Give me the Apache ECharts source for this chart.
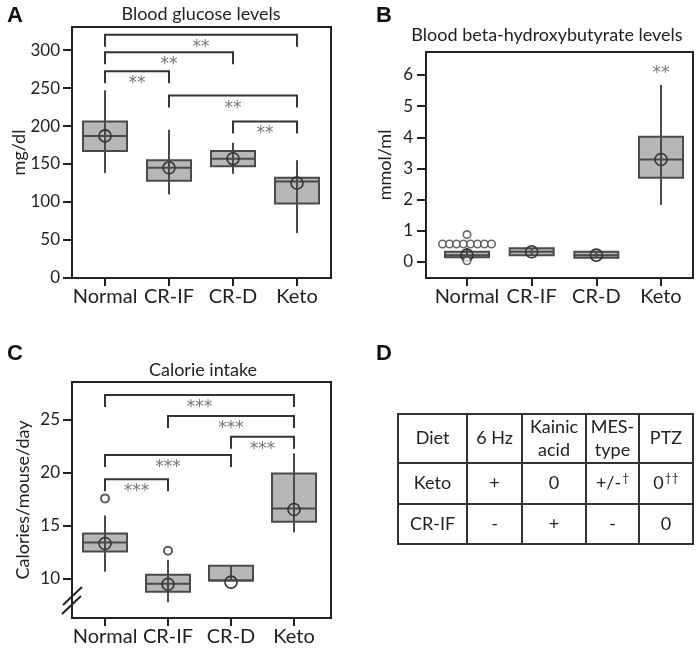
<!DOCTYPE html>
<html><head><meta charset="utf-8">
<script src="https://cdn.jsdelivr.net/npm/echarts@6/dist/echarts.min.js"></script>
<style>html,body{margin:0;padding:0;background:#fff}#c{width:699px;height:656px}</style>
</head><body><div id="c"></div>
<script>
// ---------------- data ----------------
const categories = ['Normal', 'CR-IF', 'CR-D', 'Keto'];
const categoryTicks = [0, 1, 2, 3];

// box stats per category: [low, q1, median, q3, high, mean]
const glucoseLow    = [138, 110, 137, 59];
const glucoseQ1     = [167, 128, 147, 98];
const glucoseMedian = [187, 145, 157, 127];
const glucoseQ3     = [206, 155, 167, 132];
const glucoseHigh   = [247, 195, 178, 155];
const glucoseMean   = [187, 145, 157, 125];
const glucoseTicks  = [0, 50, 100, 150, 200, 250, 300];
// brackets: from category, to category, level (mg/dl), label
const glucoseBrFrom  = [0, 0, 0, 1, 2];
const glucoseBrTo    = [3, 2, 1, 3, 3];
const glucoseBrLevel = [320, 297, 272, 240, 206];
const glucoseBrSig   = ['**', '**', '**', '**', '**'];

const bhbLow    = [0.08, 0.22, 0.14, 1.83];
const bhbQ1     = [0.15, 0.22, 0.14, 2.70];
const bhbMedian = [0.22, 0.33, 0.22, 3.29];
const bhbQ3     = [0.33, 0.44, 0.33, 4.02];
const bhbHigh   = [0.45, 0.44, 0.33, 5.68];
const bhbMean   = [0.22, 0.33, 0.22, 3.29];
const bhbTicks  = [0, 1, 2, 3, 4, 5, 6];
const bhbSig    = ['', '', '', '**'];
// outliers (category, value)
const bhbOutCat = [0, 0, 0, 0, 0, 0, 0, 0, 0, 0];
const bhbOutVal = [0.58, 0.58, 0.58, 0.58, 0.58, 0.58, 0.58, 0.58, 0.88, 0.04];

const calLow    = [10.7, 7.8, 9.85, 14.4];
const calQ1     = [12.6, 8.8, 9.85, 15.4];
const calMedian = [13.45, 9.55, 9.85, 16.65];
const calQ3     = [14.3, 10.4, 11.25, 19.95];
const calHigh   = [16.0, 11.8, 11.25, 21.85];
const calMean   = [13.35, 9.5, 9.7, 16.55];
const calTicks  = [10, 15, 20, 25];
const calOutCat = [0, 1];
const calOutVal = [17.6, 12.67];
const calBrFrom  = [0, 1, 2, 0, 0];
const calBrTo    = [3, 3, 3, 2, 1];
const calBrLevel = [27.36, 25.38, 23.42, 21.7, 19.4];
const calBrSig   = ['***', '***', '***', '***', '***'];

const tableHeader = ['Diet', '6 Hz', 'Kainic\nacid', 'MES-\ntype', 'PTZ'];
const tableRow1   = ['Keto', '+', '0', '+/-', '0'];
const tableRow1Note = ['', '', '', '†', '††'];
const tableRow2   = ['CR-IF', '-', '+', '-', '0'];

// ---------------- style / layout ----------------
const FONT = 'Lato';
const INK = '#222';
const BOX_FILL = '#b7b7b7';
const BOX_STROKE = '#4a4a4a';
const BOX_HALF = 22;
const TICK = 12;
// jitter (px) for the swarm of identical outliers in panel B
const bhbJitter = [-24.5, -17.5, -10.5, -3.5, 3.5, 10.5, 17.5, 24.5, 0, 0];

function boxData(lo, q1, md, q3, hi, mn) {
  return categories.map((c, i) => [i, lo[i], q1[i], md[i], q3[i], hi[i], mn[i]]);
}
function makeBoxRender(sig) {
  return function (params, api) {
    const x = api.value(0);
    const lo = api.coord([x, api.value(1)]);
    const q1 = api.coord([x, api.value(2)]);
    const md = api.coord([x, api.value(3)]);
    const q3 = api.coord([x, api.value(4)]);
    const hi = api.coord([x, api.value(5)]);
    const mn = api.coord([x, api.value(6)]);
    const cx = q1[0];
    const ch = [
      {type: 'rect', shape: {x: cx - BOX_HALF, y: q3[1], width: 2 * BOX_HALF, height: q1[1] - q3[1]},
       style: {fill: BOX_FILL, stroke: BOX_STROKE, lineWidth: 2}},
      {type: 'line', shape: {x1: cx - BOX_HALF, y1: md[1], x2: cx + BOX_HALF, y2: md[1]},
       style: {stroke: BOX_STROKE, lineWidth: 2}},
      {type: 'line', shape: {x1: cx, y1: lo[1], x2: cx, y2: hi[1]},
       style: {stroke: BOX_STROKE, lineWidth: 2}},
      {type: 'circle', shape: {cx: cx, cy: mn[1], r: 6},
       style: {fill: 'rgba(0,0,0,0)', stroke: '#333', lineWidth: 1.6}}
    ];
    if (sig && sig[params.dataIndex]) {
      ch.push({type: 'text', style: {text: sig[params.dataIndex], x: cx, y: hi[1] - 20, align: 'center',
        verticalAlign: 'top', fill: '#777', fontSize: 17, fontFamily: 'DejaVu Sans'}});
    }
    return {type: 'group', children: ch};
  };
}
function makeBracketRender(sig) {
  return function (params, api) {
    const a = api.coord([api.value(0), api.value(2)]);
    const b = api.coord([api.value(1), api.value(2)]);
    const mid = (a[0] + b[0]) / 2;
    return {type: 'group', children: [
      {type: 'polyline', shape: {points: [[a[0], a[1] + TICK], [a[0], a[1]], [b[0], b[1]], [b[0], b[1] + TICK]]},
       style: {fill: null, stroke: '#333', lineWidth: 2}},
      {type: 'text', style: {text: sig[params.dataIndex], x: mid, y: a[1] + 4, align: 'center',
        verticalAlign: 'top', fill: '#777', fontSize: 17, fontFamily: 'DejaVu Sans'}}
    ]};
  };
}

const grids = [
  {left: 72, top: 27, width: 259, height: 251},
  {left: 426, top: 52, width: 267, height: 226},
  {left: 72, top: 382, width: 259, height: 236}
].map(g => Object.assign(g, {show: true, borderColor: INK, borderWidth: 2, backgroundColor: 'transparent',
  containLabel: false, outerBoundsMode: 'none'}));

function xAx(gi, min, max) {
  return {type: 'value', gridIndex: gi, min: min, max: max, splitLine: {show: false},
    axisLine: {show: true, onZero: false, lineStyle: {color: INK, width: 2}},
    axisTick: {show: true, length: 8, customValues: categoryTicks, lineStyle: {color: INK, width: 2}},
    axisLabel: {customValues: categoryTicks, formatter: v => categories[Math.round(v)] || '',
      margin: 9, fontSize: 20, color: INK, fontFamily: FONT, hideOverlap: false}};
}
function yAx(gi, min, max, ticks, name, gap, margin) {
  return {type: 'value', gridIndex: gi, min: min, max: max, splitLine: {show: false},
    axisLine: {show: true, onZero: false, lineStyle: {color: INK, width: 2}},
    name: name, nameLocation: 'middle', nameGap: gap, nameMoveOverlap: false,
    nameTextStyle: {fontSize: 18, color: INK, fontFamily: FONT},
    axisTick: {show: true, length: 9, customValues: ticks, lineStyle: {color: INK, width: 2}},
    axisLabel: {customValues: ticks, margin: margin, fontSize: 17, color: INK, fontFamily: FONT, hideOverlap: false}};
}

function bracketData(from, to, level) {
  return from.map((f, i) => [f, to[i], level[i]]);
}
function outlierData(cat, val, jit) {
  return cat.map((c, i) => ({value: [c, val[i]], symbolOffset: [jit ? jit[i] : 0, 0]}));
}
const outStyle = {color: '#fff', borderColor: '#444', borderWidth: 1.6};

const series = [
  {type: 'custom', xAxisIndex: 0, yAxisIndex: 0, renderItem: makeBoxRender(null),
   data: boxData(glucoseLow, glucoseQ1, glucoseMedian, glucoseQ3, glucoseHigh, glucoseMean),
   encode: {x: 0, y: [1, 5]}, clip: false, silent: true},
  {type: 'custom', xAxisIndex: 0, yAxisIndex: 0, renderItem: makeBracketRender(glucoseBrSig),
   data: bracketData(glucoseBrFrom, glucoseBrTo, glucoseBrLevel), encode: {x: [0, 1], y: 2}, clip: false, silent: true},

  {type: 'custom', xAxisIndex: 1, yAxisIndex: 1, renderItem: makeBoxRender(bhbSig),
   data: boxData(bhbLow, bhbQ1, bhbMedian, bhbQ3, bhbHigh, bhbMean),
   encode: {x: 0, y: [1, 5]}, clip: false, silent: true},
  {type: 'scatter', xAxisIndex: 1, yAxisIndex: 1, symbol: 'circle', symbolSize: 7.5, itemStyle: outStyle,
   data: outlierData(bhbOutCat, bhbOutVal, bhbJitter), silent: true, z: 3},

  {type: 'custom', xAxisIndex: 2, yAxisIndex: 2, renderItem: makeBoxRender(null),
   data: boxData(calLow, calQ1, calMedian, calQ3, calHigh, calMean),
   encode: {x: 0, y: [1, 5]}, clip: false, silent: true},
  {type: 'scatter', xAxisIndex: 2, yAxisIndex: 2, symbol: 'circle', symbolSize: 8,
   itemStyle: {color: '#fff', borderColor: '#333', borderWidth: 2},
   data: outlierData(calOutCat, calOutVal, null), silent: true, z: 3},
  {type: 'custom', xAxisIndex: 2, yAxisIndex: 2, renderItem: makeBracketRender(calBrSig),
   data: bracketData(calBrFrom, calBrTo, calBrLevel), encode: {x: [0, 1], y: 2}, clip: false, silent: true}
];

// ---------------- table (panel D) ----------------
const colX = [398, 467, 522, 586, 639, 693];
const rowY = [414, 463, 504, 544];
const tableGraphics = [];
tableGraphics.push({type: 'rect', shape: {x: colX[0], y: rowY[0], width: colX[5] - colX[0], height: rowY[3] - rowY[0]},
  style: {fill: 'none', stroke: '#333', lineWidth: 2}});
for (let i = 1; i < colX.length - 1; i++) {
  tableGraphics.push({type: 'line', shape: {x1: colX[i], y1: rowY[0], x2: colX[i], y2: rowY[3]}, style: {stroke: '#333', lineWidth: 2}});
}
for (let j = 1; j < rowY.length - 1; j++) {
  tableGraphics.push({type: 'line', shape: {x1: colX[0], y1: rowY[j], x2: colX[5], y2: rowY[j]}, style: {stroke: '#333', lineWidth: 2}});
}
function cellText(txt, note, ci, ri) {
  const cx = (colX[ci] + colX[ci + 1]) / 2, cy = (rowY[ri] + rowY[ri + 1]) / 2;
  const text = note ? '{a|' + txt + '}{s|' + note + '}' : txt;
  return {type: 'text', x: cx, y: cy, style: {text: text, align: 'center', verticalAlign: 'middle',
    fontSize: 18, fontFamily: FONT, fill: INK, lineHeight: 23,
    rich: {a: {fontSize: 18, fontFamily: FONT, fill: INK}, s: {fontSize: 12, fontFamily: FONT, fill: INK, verticalAlign: 'top', padding: [0, 0, 6, 1]}}}};
}
tableHeader.forEach((t, i) => tableGraphics.push(cellText(t, '', i, 0)));
tableRow1.forEach((t, i) => tableGraphics.push(cellText(t, tableRow1Note[i], i, 1)));
tableRow2.forEach((t, i) => tableGraphics.push(cellText(t, '', i, 2)));

const letterStyle = {fontSize: 22, fontWeight: 'bold', fontFamily: 'Liberation Sans', fill: '#111'};
const titleStyle = {fontSize: 18, fontFamily: FONT, fill: INK, align: 'center', verticalAlign: 'middle'};
const graphics = [
  {type: 'text', x: 7, y: 5, style: Object.assign({text: 'A'}, letterStyle)},
  {type: 'text', x: 376, y: 5, style: Object.assign({text: 'B'}, letterStyle)},
  {type: 'text', x: 7, y: 343, style: Object.assign({text: 'C'}, letterStyle)},
  {type: 'text', x: 376, y: 343, style: Object.assign({text: 'D'}, letterStyle)},
  {type: 'text', x: 201, y: 14, style: Object.assign({text: 'Blood glucose levels'}, titleStyle)},
  {type: 'text', x: 547, y: 35, style: Object.assign({text: 'Blood beta-hydroxybutyrate levels'}, titleStyle)},
  {type: 'text', x: 203, y: 370, style: Object.assign({text: 'Calorie intake'}, titleStyle)},
  // axis break marks on panel C
  {type: 'line', shape: {x1: 62, y1: 614, x2: 81, y2: 596}, style: {stroke: '#222', lineWidth: 2}, z: 10},
  {type: 'line', shape: {x1: 63, y1: 605, x2: 82, y2: 587}, style: {stroke: '#222', lineWidth: 2}, z: 10}
].concat(tableGraphics);

const chart = echarts.init(document.getElementById('c'), null, {renderer: 'canvas'});
chart.setOption({
  animation: false,
  backgroundColor: '#fff',
  grid: grids,
  xAxis: [xAx(0, -0.516, 3.531), xAx(1, -0.634, 3.495), xAx(2, -0.524, 3.587)],
  yAxis: [
    yAx(0, 0, 330.3, glucoseTicks, 'mg/dl', 44, 12),
    yAx(1, -0.513, 6.737, bhbTicks, 'mmol/ml', 32, 13),
    yAx(2, 6.32, 28.58, calTicks, 'Calories/mouse/day', 40, 12)
  ],
  series: series,
  graphic: graphics
});
</script></body></html>
